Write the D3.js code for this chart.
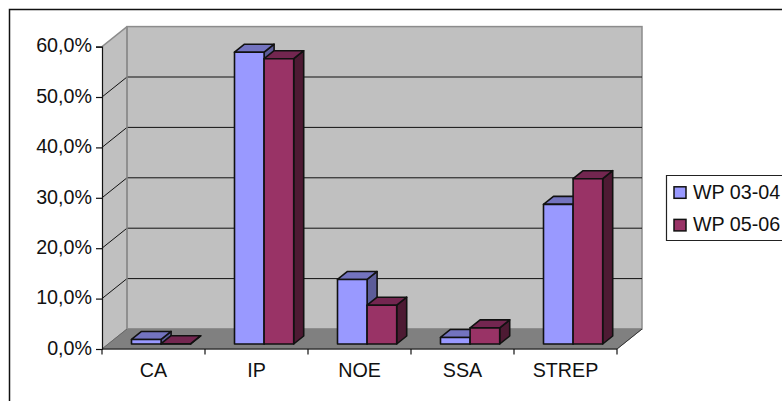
<!DOCTYPE html>
<html>
<head>
<meta charset="utf-8">
<script src="https://cdn.jsdelivr.net/npm/d3@7"></script>
<style>
  html, body { margin: 0; padding: 0; background: #fff; }
  svg { display: block; }
  text { font-family: "Liberation Sans", Arial, sans-serif; fill: #111; }
</style>
</head>
<body>
<svg id="chart" width="782" height="401"></svg>
<script>
const categories = ["CA", "IP", "NOE", "SSA", "STREP"];
const seriesNames = ["WP 03-04", "WP 05-06"];
const wp0304 = [0.9, 57.9, 12.8, 1.3, 27.7];
const wp0506 = [0.05, 56.6, 7.7, 3.2, 32.8];
const yTicks = [0, 10, 20, 30, 40, 50, 60];
const frontColors = ["#9999ff", "#993366"];
const topColors = ["#7373bf", "#732650"];
const sideColors = ["#5c5c99", "#4d1a33"];

const svg = d3.select("#chart");
const fontSize = 19.7;
const floorDepth = { dx: 25, dy: -20 };
const barDepth = { dx: 10, dy: -8 };
const barInset = { dx: 0, dy: -5 };

const x = d3.scaleBand().domain(categories).range([102, 617]);
const y = d3.scaleLinear().domain([0, 60]).range([349, 46.6]);
const inner = d3.scaleBand().domain(seriesNames).range([29.5, 88.7]);
const line = d3.line();

// Outer chart frame: only the top and left edges are inked
svg.append("path").attr("d", "M9.5,401V9.5H782").attr("fill", "none").attr("stroke", "#111").attr("stroke-width", 1.5);

// Box walls and floor
const [x0, x1] = x.range();
const yBase = y(0), yTop = y(60);
const { dx: fx, dy: fy } = floorDepth;
svg.append("path")
  .attr("d", line([[x0, yBase], [x0, yTop], [x0 + fx, yTop + fy], [x0 + fx, yBase + fy]]) + "Z")
  .attr("fill", "#c0c0c0");
svg.append("rect")
  .attr("x", x0 + fx).attr("y", yTop + fy)
  .attr("width", x1 - x0).attr("height", yBase - yTop)
  .attr("fill", "#c0c0c0").attr("stroke", "#8c8c8c").attr("stroke-width", 1.5);
svg.append("path")
  .attr("d", line([[x0, yBase], [x1, yBase], [x1 + fx, yBase + fy], [x0 + fx, yBase + fy]]) + "Z")
  .attr("fill", "#808080").attr("stroke", "#808080");
svg.append("path")
  .attr("d", line([[x1, yBase], [x1 + fx, yBase + fy]]))
  .attr("stroke", "#333").attr("stroke-width", 1);

// Gridlines wrap from the left wall onto the back wall
svg.append("g").selectAll("path")
  .data(yTicks.filter(t => t > 0 && t < 60))
  .join("path")
  .attr("d", t => line([[x0, y(t)], [x0 + fx, y(t) + fy], [x1 + fx, y(t) + fy]]))
  .attr("fill", "none").attr("stroke", "#111").attr("stroke-width", 1);
svg.append("path")
  .attr("d", line([[x0, yTop], [x0 + fx, yTop + fy]]))
  .attr("stroke", "#8c8c8c").attr("stroke-width", 1.5);
svg.append("path")
  .attr("d", line([[x0, yBase], [x0 + fx, yBase + fy]]))
  .attr("stroke", "#666").attr("stroke-width", 1);
svg.append("path")
  .attr("d", line([[x0 + fx, yBase + fy], [x0 + fx, yTop + fy]]))
  .attr("stroke", "#8c8c8c").attr("stroke-width", 1.5);

// Extruded columns, left to right so nearer faces overlap correctly
const bars = svg.append("g").attr("stroke", "#111").attr("stroke-width", 1.6).attr("stroke-linejoin", "round");
categories.forEach((cat, ci) => {
  [wp0304, wp0506].forEach((values, si) => {
    const name = seriesNames[si];
    const l = x(cat) + inner(name) + barInset.dx;
    const r = l + inner.bandwidth();
    const b = yBase + barInset.dy;
    const t = y(values[ci]) + barInset.dy;
    const { dx, dy } = barDepth;
    bars.append("path")
      .attr("d", line([[r, b], [r, t], [r + dx, t + dy], [r + dx, b + dy]]) + "Z")
      .attr("fill", sideColors[si]);
    bars.append("path")
      .attr("d", line([[l, t], [r, t], [r + dx, t + dy], [l + dx, t + dy]]) + "Z")
      .attr("fill", topColors[si]);
    bars.append("rect")
      .attr("x", l).attr("y", t).attr("width", r - l).attr("height", b - t)
      .attr("fill", frontColors[si]);
  });
});

// Axes
const yAxis = d3.axisLeft(y).tickValues(yTicks).tickSize(6).tickPadding(4)
  .tickFormat(v => d3.format(".1f")(v).replace(".", ",") + "%");
const gy = svg.append("g").attr("transform", `translate(${x0},0)`).call(yAxis);
gy.selectAll("text").attr("font-size", fontSize).attr("font-family", null).attr("y", -1);
gy.selectAll("path,line").attr("stroke", "#111").attr("stroke-width", 1.2);

const xAxis = d3.axisBottom(x).tickSize(0).tickPadding(14);
const gx = svg.append("g").attr("transform", `translate(0,${yBase})`).call(xAxis);
gx.selectAll("text").attr("font-size", fontSize).attr("font-family", null);
gx.selectAll("path").attr("stroke", "#111").attr("stroke-width", 1.2).attr("d", `M${x0},0H${x1}`);
gx.selectAll(".tick line").remove();
svg.append("g").selectAll("line")
  .data([...categories.map(c => x(c)), x1])
  .join("line")
  .attr("x1", d => d).attr("x2", d => d)
  .attr("y1", yBase).attr("y2", yBase + 5.5)
  .attr("stroke", "#111").attr("stroke-width", 1.2);

// Legend box runs off the right edge
const legend = svg.append("g");
legend.append("path").attr("d", "M782,175.5H666.5V240.5H782")
  .attr("fill", "#fff").attr("stroke", "#222").attr("stroke-width", 1.2);
seriesNames.forEach((name, i) => {
  const row = 186.8 + i * 32.6;
  legend.append("rect")
    .attr("x", 674).attr("y", row).attr("width", 12).attr("height", 11.5)
    .attr("fill", frontColors[i]).attr("stroke", "#111").attr("stroke-width", 1.5);
  legend.append("text").attr("x", 693).attr("y", row + 12).attr("font-size", fontSize).text(name);
});
</script>
</body>
</html>
